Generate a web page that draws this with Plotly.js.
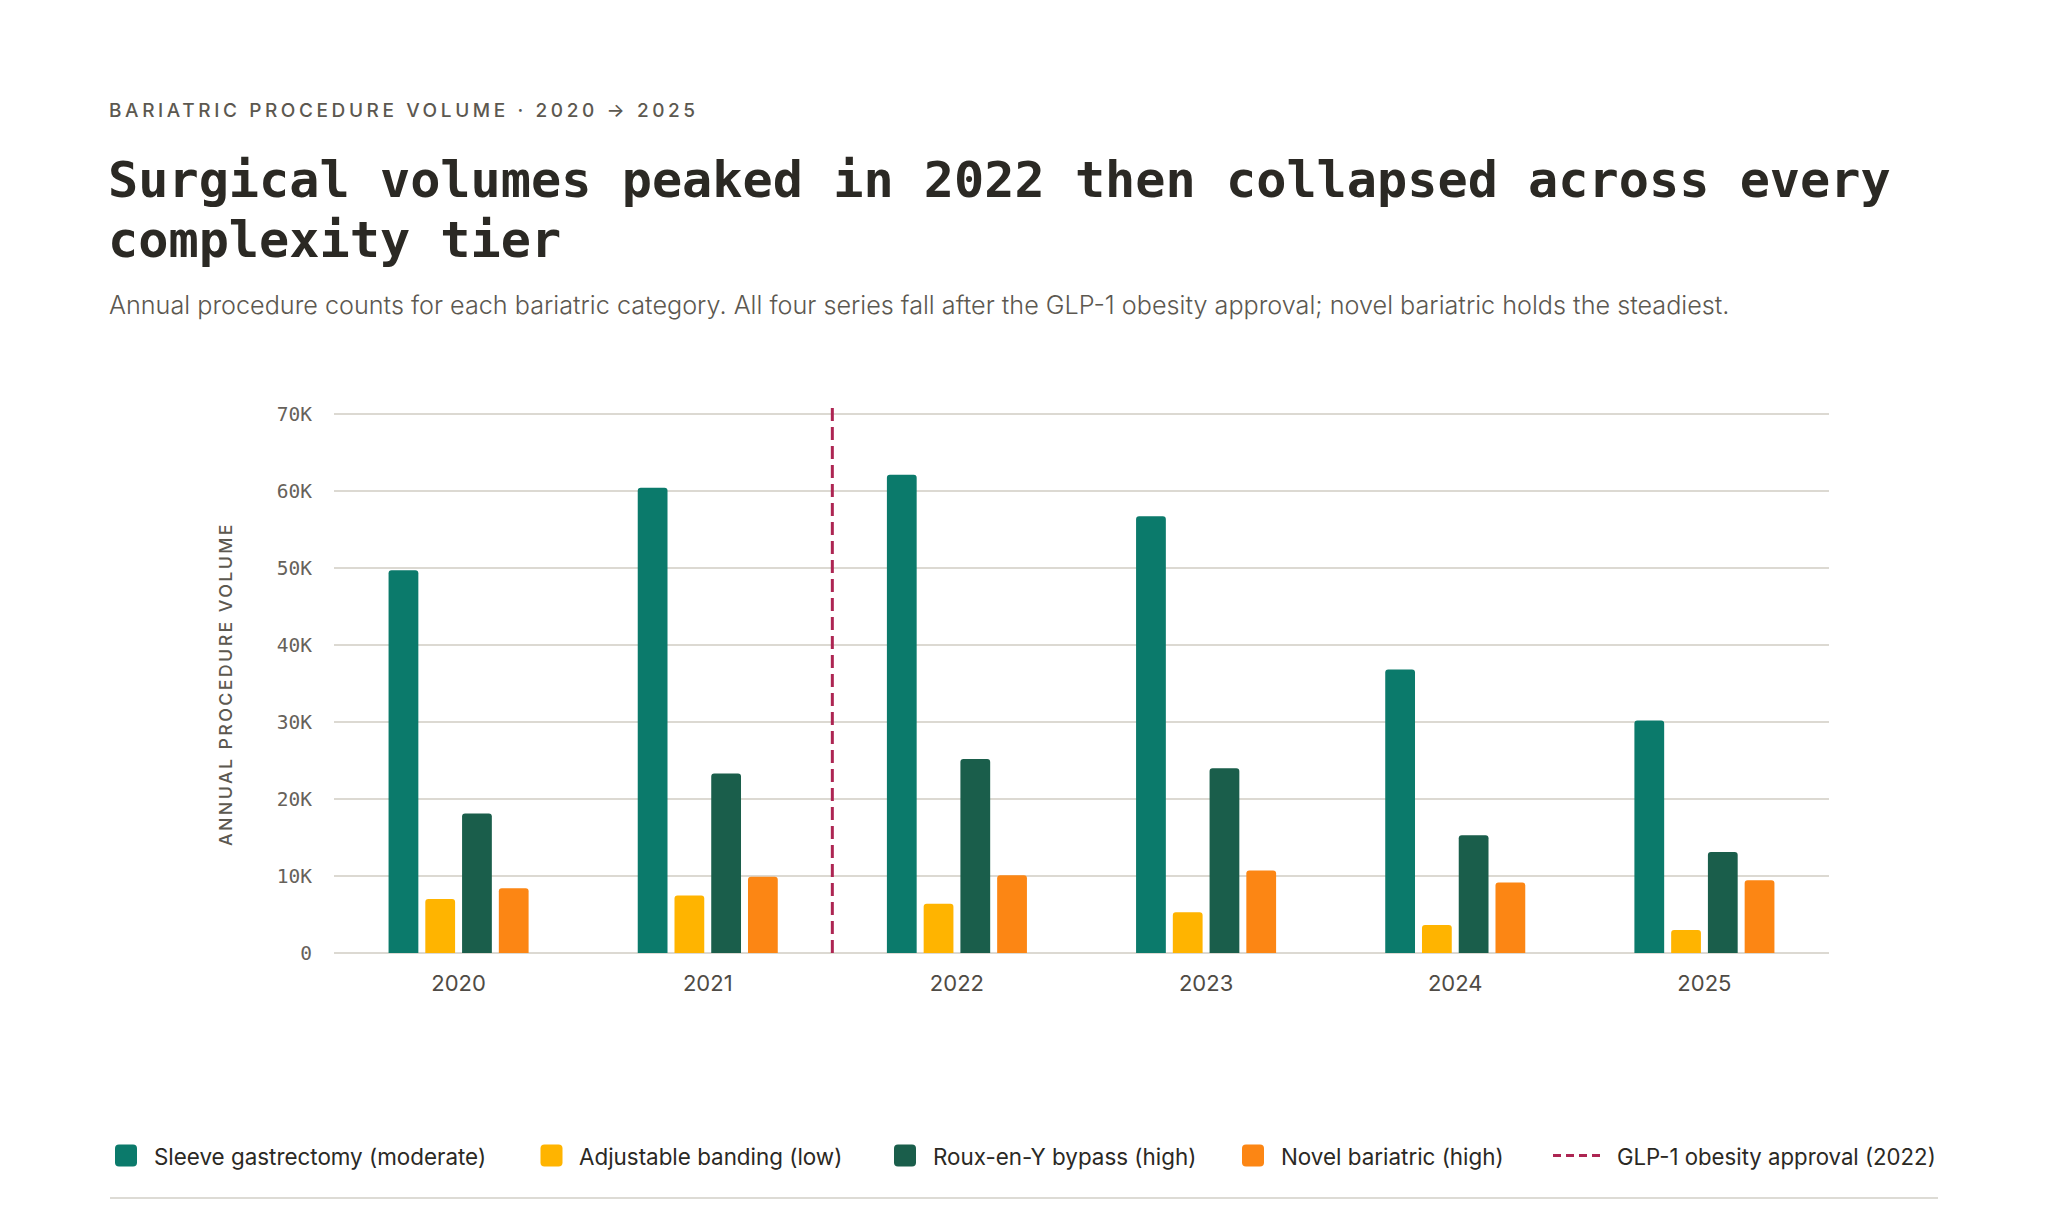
<!DOCTYPE html>
<html>
<head>
<meta charset="utf-8">
<script src="https://cdn.plot.ly/plotly-3.0.1.min.js"></script>
<style>
  html, body { margin: 0; padding: 0; background: #ffffff; }
  #myDiv { width: 2048px; height: 1229px; }
</style>
</head>
<body>
<div id="myDiv"></div>
<script>
// values
var years = ['2020', '2021', '2022', '2023', '2024', '2025'];
var sleeve = [49700, 60400, 62100, 56700, 36800, 30200];
var banding = [7000, 7450, 6400, 5300, 3650, 3000];
var roux = [18100, 23300, 25200, 24000, 15300, 13100];
var novel = [8400, 9900, 10100, 10700, 9150, 9450];
var yTicks = [0, 10000, 20000, 30000, 40000, 50000, 60000, 70000];
var yTickText = ['0', '10K', '20K', '30K', '40K', '50K', '60K', '70K'];
var approvalAt = 1.5; // between 2021 and 2022

var names = ['Sleeve gastrectomy (moderate)', 'Adjustable banding (low)', 'Roux-en-Y bypass (high)', 'Novel bariatric (high)'];
var colors = ['#0b7a6b', '#ffb400', '#1a5e4b', '#fc8614'];
var glpColor = '#ad2552';
var glpName = 'GLP-1 obesity approval (2022)';

// plot box in page pixels
var L = 334, R = 219, T = 410, B = 276;
var W = 2048 - L - R, H = 1229 - T - B;
var yTop = 70500; // a little headroom above 70K so the top gridline is drawn
function xp(px) { return (px - L) / W; }
function yp(py) { return (T + H - py) / H; }

var sans = 'Inter, "Noto Sans", sans-serif';
var mono = '"DejaVu Sans Mono", monospace';
var ink = '#2b2924';
var muted = '#5c5850';

// rounded square swatch as a paper-space path
function swatch(cx, cy, half, r, color) {
	var x0 = xp(cx - half), x1 = xp(cx + half);
	var y0 = yp(cy + half), y1 = yp(cy - half);
	var rx = r / W, ry = r / H;
	var p = 'M' + (x0 + rx) + ',' + y0 +
		' L' + (x1 - rx) + ',' + y0 + ' Q' + x1 + ',' + y0 + ' ' + x1 + ',' + (y0 + ry) +
		' L' + x1 + ',' + (y1 - ry) + ' Q' + x1 + ',' + y1 + ' ' + (x1 - rx) + ',' + y1 +
		' L' + (x0 + rx) + ',' + y1 + ' Q' + x0 + ',' + y1 + ' ' + x0 + ',' + (y1 - ry) +
		' L' + x0 + ',' + (y0 + ry) + ' Q' + x0 + ',' + y0 + ' ' + (x0 + rx) + ',' + y0 + ' Z';
	return { type: 'path', xref: 'paper', yref: 'paper', path: p, fillcolor: color, line: { width: 0 } };
}

function draw() {
	var series = [sleeve, banding, roux, novel];
	var data = [];
	for (var i = 0; i < series.length; i++) {
		data.push({
			type: 'bar',
			name: names[i],
			x: years,
			y: series[i],
			marker: { color: colors[i], line: { width: 0 } },
			showlegend: false,
			hoverinfo: 'x+y+name'
		});
	}

	var annotations = [
		{ text: '<span style="letter-spacing:3.6px">BARIATRIC PROCEDURE VOLUME · 2020 → 2025</span>',
		  x: xp(107), y: yp(110.5), xanchor: 'left', yanchor: 'middle',
		  font: { family: sans, size: 19, color: muted, weight: 500 } },
		{ text: 'Surgical volumes peaked in 2022 then collapsed across every',
		  x: xp(106), y: yp(179), xanchor: 'left', yanchor: 'middle',
		  font: { family: mono, size: 50.2, color: ink, weight: 700 } },
		{ text: 'complexity tier',
		  x: xp(106), y: yp(240), xanchor: 'left', yanchor: 'middle',
		  font: { family: mono, size: 50.2, color: ink, weight: 700 } },
		{ text: 'Annual procedure counts for each bariatric category. All four series fall after the GLP-1 obesity approval; novel bariatric holds the steadiest.',
		  x: xp(107), y: yp(305), xanchor: 'left', yanchor: 'middle',
		  font: { family: sans, size: 25.2, color: muted, weight: 300 } },
		{ text: '<span style="letter-spacing:2.4px">ANNUAL PROCEDURE VOLUME</span>',
		  x: xp(225), y: yp(684), xanchor: 'center', yanchor: 'middle', textangle: -90,
		  font: { family: sans, size: 17.8, color: muted, weight: 500 } }
	];

	var shapes = [
		{ type: 'line', xref: 'x', yref: 'paper', x0: approvalAt, x1: approvalAt, y0: 0, y1: yp(406),
		  line: { color: glpColor, width: 3, dash: '13px,6px' } },
		{ type: 'line', xref: 'paper', yref: 'paper', x0: xp(110), x1: xp(1938), y0: yp(1198), y1: yp(1198),
		  line: { color: '#dddbd5', width: 2 } }
	];

	// legend drawn by hand so the swatches match the reference size
	var swatchX = [126, 551.5, 905, 1253];
	var textX = [152, 577, 931, 1279];
	var legendY = 1155.5;
	for (var j = 0; j < names.length; j++) {
		shapes.push(swatch(swatchX[j], legendY, 11, 4, colors[j]));
		annotations.push({ text: names[j], x: xp(textX[j]), y: yp(legendY + 1),
			xanchor: 'left', yanchor: 'middle',
			font: { family: sans, size: 22.4, color: ink } });
	}
	shapes.push({ type: 'line', xref: 'paper', yref: 'paper', x0: xp(1553), x1: xp(1601),
		y0: yp(legendY), y1: yp(legendY), line: { color: glpColor, width: 3, dash: '8px,5px' } });
	annotations.push({ text: glpName, x: xp(1615), y: yp(legendY + 1),
		xanchor: 'left', yanchor: 'middle',
		font: { family: sans, size: 22.2, color: ink } });

	for (var k = 0; k < annotations.length; k++) {
		annotations[k].xref = 'paper';
		annotations[k].yref = 'paper';
		annotations[k].showarrow = false;
	}

	var layout = {
		width: 2048,
		height: 1229,
		margin: { l: L, r: R, t: T, b: B, pad: 0 },
		paper_bgcolor: '#ffffff',
		plot_bgcolor: '#ffffff',
		barmode: 'group',
		bargap: 0.41,
		bargroupgap: 0.19,
		barcornerradius: 3,
		showlegend: false,
		xaxis: {
			type: 'category',
			range: [-0.5, 5.5],
			showgrid: false,
			showline: false,
			zeroline: false,
			ticks: '',
			ticklabelstandoff: 15,
			tickfont: { family: sans, size: 22, color: '#4f4b45' }
		},
		yaxis: {
			range: [0, yTop],
			tickvals: yTicks,
			ticktext: yTickText,
			showgrid: true,
			gridcolor: '#dcd9d2',
			gridwidth: 1.5,
			zeroline: true,
			zerolinecolor: '#dcd9d2',
			zerolinewidth: 1.5,
			showline: false,
			ticks: '',
			ticklabelstandoff: 21,
			tickfont: { family: mono, size: 19.5, color: '#66615a' }
		},
		shapes: shapes,
		annotations: annotations
	};

	Plotly.newPlot('myDiv', data, layout, { displayModeBar: false, staticPlot: true });
}

draw();
</script>
</body>
</html>
